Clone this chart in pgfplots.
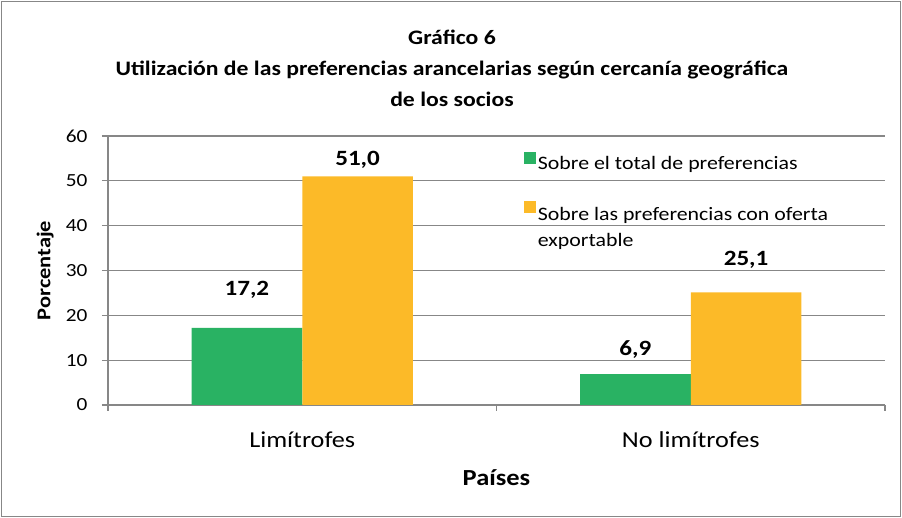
\documentclass[border=0pt]{standalone}
\usepackage{fontspec}
\setmainfont{Carlito}[FakeStretch=1.15]
\usepackage{pgfplots}
\pgfplotsset{compat=1.18}
\definecolor{cgreen}{HTML}{29B263}
\definecolor{corange}{HTML}{FCBA28}
\definecolor{cgrid}{HTML}{878787}
\begin{document}
\begin{tikzpicture}[x=1pt,y=1pt]
\useasboundingbox (0,0) rectangle (902,518);
\draw[color=cgrid, line width=1.2pt] (1.5,1.5) rectangle (900.5,516.5);
\node[font=\bfseries\fontsize{20.6}{31}\selectfont, align=center] at (452,450)
  {Gráfico 6\\Utilización de las preferencias arancelarias según cercanía geográfica\\de los socios};
\begin{axis}[
  at={(108pt,113pt)}, anchor=south west,
  scale only axis, width=777pt, height=269pt,
  xmin=-0.5, xmax=1.5, ymin=0, ymax=60,
  axis x line*=bottom, axis y line*=left,
  axis line style={-, cgrid, line width=1.2pt},
  ytick={0,10,...,60}, ymajorgrids,
  grid style={cgrid, line width=1.2pt},
  tick style={cgrid, line width=1.2pt},
  tick align=outside, major tick length=6pt,
  /pgf/number format/assume math mode=true,
  yticklabel style={font=\fontsize{18.5}{18.5}\selectfont, xshift=-11pt},
  xtick={-0.5,0.5,1.5}, xticklabels={},
  extra x ticks={0,1},
  extra x tick labels={Limítrofes, No limítrofes},
  extra x tick style={major tick length=0pt, grid=none,
    tick label style={font=\fontsize{22.8}{22.8}\selectfont, yshift=-23pt}},
  xlabel={Países}, ylabel={Porcentaje},
  every axis x label/.style={at={(axis description cs:0.5,-0.2714)}, anchor=center,
    font=\bfseries\fontsize{23}{23}\selectfont},
  every axis y label/.style={at={(axis description cs:-0.081,0.5)}, anchor=center, rotate=90,
    font=\bfseries\fontsize{19.5}{19.5}\selectfont},
  ybar, bar width=0.285,
  legend style={draw=none, fill=none, at={(axis description cs:0.535,0.94)}, anchor=north west,
    font=\fontsize{19}{26}\selectfont, row sep=27pt, inner sep=0pt},
  legend cell align=left,
  legend image code/.code={\fill[#1] (0pt,-0.5pt) rectangle (12pt,11.5pt);},
]
\addplot[fill=cgreen, draw=none, bar shift=0pt] coordinates {(-0.1425,17.2) (0.8575,6.9)};
\addlegendentry{Sobre el total de preferencias}
\addplot[fill=corange, draw=none, bar shift=0pt] coordinates {(0.1425,51.0) (1.1425,25.1)};
\addlegendentry{\begin{tabular}[t]{@{}l@{}}Sobre las preferencias con oferta\\exportable\end{tabular}}
\begin{scope}[every node/.style={font=\bfseries\fontsize{21.8}{21.8}\selectfont}]
\node at (axis cs:-0.1425,25.6) {17,2};
\node at (axis cs:0.1425,54.6) {51,0};
\node at (axis cs:0.8575,12.3) {6,9};
\node at (axis cs:1.1425,32.3) {25,1};
\end{scope}
\end{axis}
\end{tikzpicture}
\end{document}
